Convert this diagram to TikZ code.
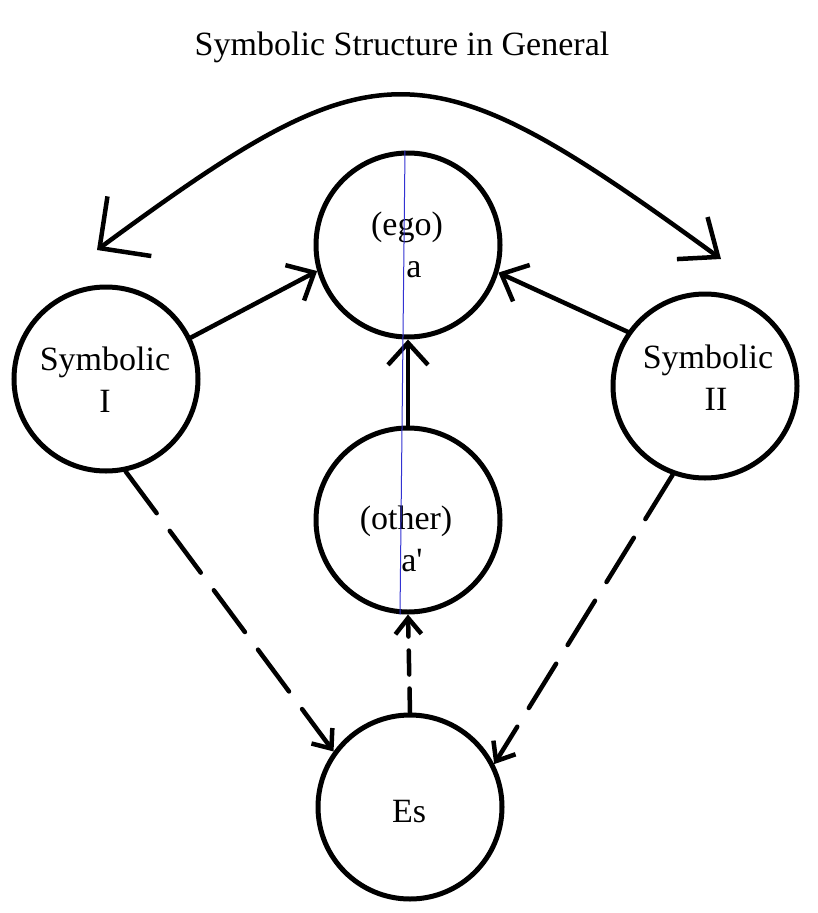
\documentclass[tikz,border=0pt]{standalone}
\usepackage{fontspec}
\setmainfont{Liberation Serif}
\usetikzlibrary{arrows.meta}
\definecolor{thinblue}{RGB}{50,50,210}

\tikzset{
  ring/.style={circle,draw,line width=5pt,minimum size=184pt,inner sep=0pt},
  txt/.style={align=center,font=\fontsize{34}{42}\selectfont},
  link/.style={line width=4.5pt,line cap=round,-{Straight Barb[length=22pt,width=40pt]}},
  dlink/.style={line width=4.5pt,line cap=round,dash pattern=on 52pt off 22pt,-{Straight Barb[length=16pt,width=26pt]}},
}

\begin{document}
\begin{tikzpicture}[x=1pt,y=-1pt]
  \useasboundingbox (0,0) rectangle (817,913);
  \node[txt] (title) at (402,47) {Symbolic Structure in General};
  % circles
  \node[ring] (ego) at (408,245) {};
  \node[ring] (symI) at (106,379) {};
  \node[ring] (symII) at (705,386) {};
  \node[ring] (other) at (408,520) {};
  \node[ring] (es) at (410,807) {};
  % texts
  \node[txt] (egoTxt) at (407,245) {(ego)\\\hspace*{14pt}a};
  \node[txt] (symITxt) at (105,380) {Symbolic\\I};
  \node[txt] (symIITxt) at (708,378) {Symbolic\\\hspace*{16pt}II};
  \node[txt] (otherTxt) at (406,539) {(other)\\\hspace*{12pt}a\textquotesingle};
  \node[txt] (esTxt) at (409,812) {Es};
  % top arc
  \coordinate (arcL) at (97,250);
  \coordinate (arcR) at (721,259);
  \draw[line width=4.5pt,line cap=round,
    {Straight Barb[length=37pt,width=74pt]}-{Straight Barb[length=32pt,width=52pt]}]
    (arcL) .. controls (380,42) and (423,42) .. (arcR);
  % arrows
  \draw[link] (symI.26) -- (ego.196);
  \draw[link] (symII.145) -- (ego.343);
  \draw[link] (other.north) -- (ego.south);
  \draw[dlink] (symI.-78) -- (es.144);
  \draw[dlink] (symII.-110) -- (es.27);
  \draw[dlink,dash pattern=on 24pt off 14pt] (es.north) -- (other.south);
  \draw[thinblue,line width=1pt] ([xshift=-3pt]ego.north) -- ([xshift=-8pt]other.south);
\end{tikzpicture}
\end{document}
